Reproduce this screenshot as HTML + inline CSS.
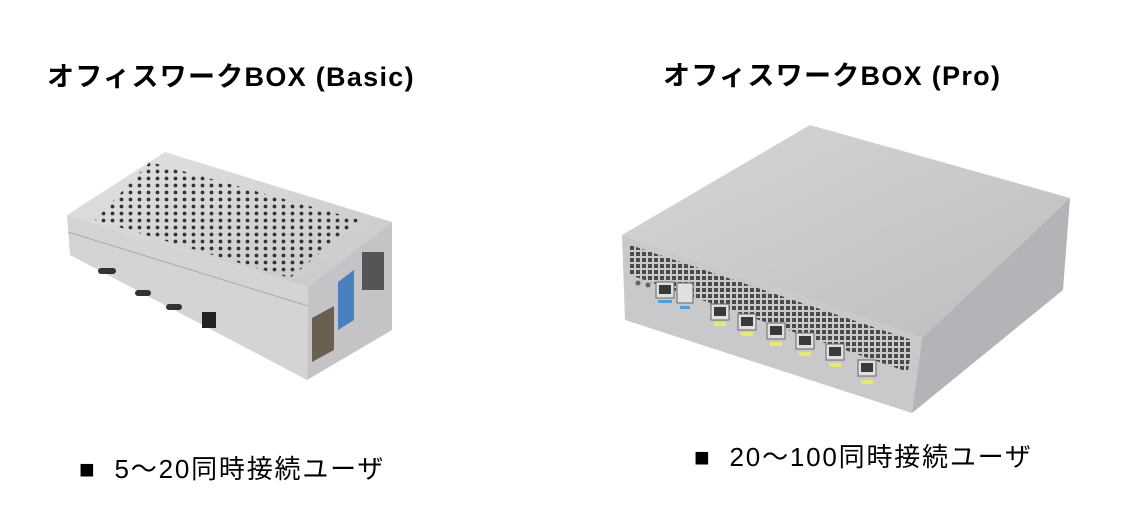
<!DOCTYPE html>
<html><head><meta charset="utf-8"><style>
html,body{margin:0;padding:0;background:#fff;}
body{width:1131px;height:524px;position:relative;overflow:hidden;font-family:"Liberation Sans","Noto Sans CJK JP",sans-serif;}
.t{position:absolute;font-weight:bold;font-size:27px;letter-spacing:1.3px;color:#000;white-space:nowrap;}
.b{position:absolute;font-size:26px;letter-spacing:1.8px;color:#000;white-space:nowrap;}
svg{position:absolute;left:0;top:0;}
</style></head><body>
<svg width="1131" height="524" viewBox="0 0 1131 524">
<defs>
<pattern id="holes" width="9" height="7" patternUnits="userSpaceOnUse">
<circle cx="4.5" cy="3.5" r="1.9" fill="#222"/></pattern>
<pattern id="vent" width="6" height="6" patternUnits="userSpaceOnUse"><rect width="4" height="4" fill="#333"/></pattern>
<linearGradient id="tg" x1="0" y1="0" x2="1" y2="1"><stop offset="0" stop-color="#e2e2e2"/><stop offset="1" stop-color="#c8c8ca"/></linearGradient>
<linearGradient id="pg" x1="0" y1="0" x2="1" y2="1"><stop offset="0" stop-color="#d6d6d8"/><stop offset="1" stop-color="#bdbdc0"/></linearGradient>
</defs>
<!-- Basic box -->
<polygon points="165,152 392,222 308,287 67,215" fill="url(#tg)"/>
<polygon points="150,162 360,220 290,278 95,220" fill="url(#holes)" opacity="0.9"/>
<polygon points="67,215 308,287 307,380 70,255" fill="#d4d4d6"/>
<line x1="68" y1="232" x2="308" y2="306" stroke="#aaa" stroke-width="1"/>
<polygon points="308,287 392,222 392,330 307,380" fill="#c4c4c6"/>
<polygon points="338,282 354,270 354,320 338,330" fill="#4a7fc0"/>
<rect x="362" y="252" width="22" height="38" fill="#555"/>
<polygon points="312,318 334,306 334,350 312,362" fill="#6a6050"/>
<rect x="98" y="268" width="18" height="6" rx="3" fill="#333"/>
<rect x="135" y="290" width="16" height="6" rx="3" fill="#333"/>
<rect x="166" y="304" width="16" height="6" rx="3" fill="#333"/>
<rect x="202" y="312" width="14" height="16" fill="#222"/>
<!-- Pro box -->
<polygon points="810,125 1070,198 922,338 622,235" fill="url(#pg)"/>
<polygon points="622,235 922,338 912,413 625,320" fill="#c9c9cc"/>
<polygon points="630,245 912,340 908,372 630,275" fill="url(#vent)" opacity="0.85"/>
<polygon points="922,338 1070,198 1063,290 912,413" fill="#b4b4b8"/>
<g fill="#e0e0e0" stroke="#666" stroke-width="1">
<rect x="656" y="282" width="18" height="16"/><rect x="677" y="283" width="16" height="20"/>
<rect x="711" y="304" width="18" height="16"/><rect x="738" y="314" width="18" height="16"/>
<rect x="767" y="323" width="18" height="16"/><rect x="796" y="333" width="18" height="16"/>
<rect x="826" y="344" width="18" height="16"/><rect x="858" y="360" width="18" height="16"/>
</g>
<g fill="#3a3a3a">
<rect x="659" y="285" width="12" height="9"/><rect x="714" y="307" width="12" height="9"/><rect x="741" y="317" width="12" height="9"/>
<rect x="770" y="326" width="12" height="9"/><rect x="799" y="336" width="12" height="9"/><rect x="829" y="347" width="12" height="9"/><rect x="861" y="363" width="12" height="9"/>
</g>
<g fill="#e8e86a"><rect x="714" y="322" width="12" height="4"/><rect x="741" y="332" width="12" height="4"/><rect x="770" y="342" width="12" height="4"/><rect x="799" y="352" width="12" height="4"/><rect x="829" y="363" width="12" height="4"/><rect x="861" y="380" width="12" height="4"/></g>
<rect x="658" y="300" width="14" height="3" fill="#4aa0e0"/><rect x="680" y="306" width="10" height="3" fill="#4aa0e0"/>
<circle cx="638" cy="283" r="2.5" fill="#666"/><circle cx="648" cy="285" r="2.5" fill="#666"/>
</svg>
<div class="t" style="left:47px;top:55px;">オフィスワークBOX (Basic)</div>
<div class="t" style="left:663px;top:54px;">オフィスワークBOX (Pro)</div>
<div class="b" style="left:79px;top:449px;">■&nbsp; 5～20同時接続ユーザ</div>
<div class="b" style="left:694px;top:437px;">■&nbsp; 20～100同時接続ユーザ</div>
</body></html>
